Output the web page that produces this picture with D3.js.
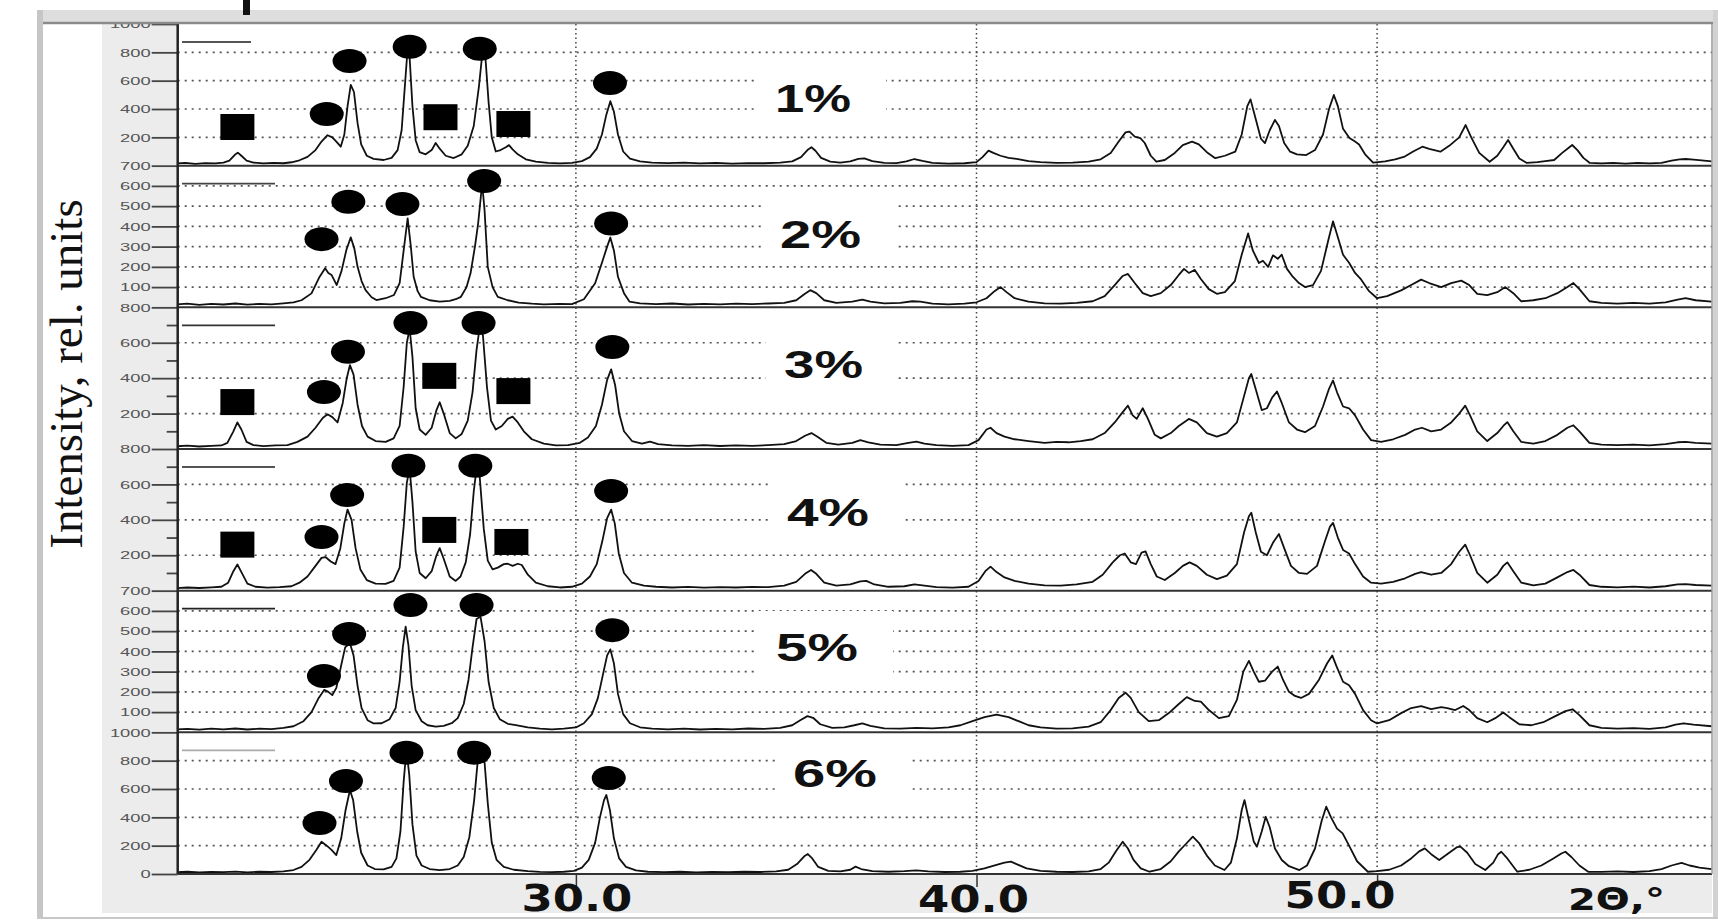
<!DOCTYPE html>
<html>
<head>
<meta charset="utf-8">
<script src="https://cdn.jsdelivr.net/npm/d3@7"></script>
<style>
  body { margin: 0; background: #fff; }
</style>
</head>
<body>
<svg id="chart"></svg>
<script>
// ---- data ----
const panelNames = ["1%", "2%", "3%", "4%", "5%", "6%"];
const panelMax = [1000, 700, 800, 800, 700, 1000];
const majorTicks = [
  [200, 400, 600, 800],
  [100, 200, 300, 400, 500, 600],
  [200, 400, 600],
  [200, 400, 600],
  [100, 200, 300, 400, 500, 600],
  [200, 400, 600, 800]
];
const minorTicks = [[], [], [100, 300, 500, 700], [100, 300, 500, 700], [], []];
const xTicks = [30, 40, 50];
const xTickLabels = ["30.0", "40.0", "50.0"];
const xAxisTitle = "2\u0398,\u00b0";
const yAxisTitle = "Intensity, rel. units";

// 2theta, intensity
const pattern1 = [[20.0,15],[20.25,19],[20.5,13],[20.75,18],[21.0,16],[21.2,22],[21.35,35],[21.48,75],[21.56,92],[21.65,70],[21.78,35],[21.95,22],[22.2,16],[22.45,19],[22.7,17],[22.9,24],[23.1,38],[23.3,62],[23.5,110],[23.65,170],[23.8,215],[23.92,200],[24.02,170],[24.13,134],[24.22,220],[24.3,420],[24.38,570],[24.46,520],[24.55,300],[24.64,150],[24.78,70],[24.95,48],[25.2,40],[25.4,55],[25.55,110],[25.65,250],[25.73,560],[25.79,790],[25.85,760],[25.92,420],[26.0,180],[26.1,95],[26.25,80],[26.4,110],[26.5,160],[26.6,120],[26.75,70],[26.95,54],[27.15,80],[27.3,140],[27.45,280],[27.58,560],[27.66,780],[27.74,770],[27.82,450],[27.9,200],[28.0,100],[28.12,110],[28.25,130],[28.33,145],[28.42,115],[28.55,80],[28.75,45],[29.0,28],[29.3,19],[29.6,16],[29.9,20],[30.15,32],[30.35,60],[30.52,120],[30.65,220],[30.76,360],[30.86,455],[30.95,380],[31.05,220],[31.18,100],[31.35,50],[31.6,30],[31.9,22],[32.3,18],[32.7,21],[33.1,16],[33.5,19],[33.9,15],[34.3,18],[34.7,17],[35.1,21],[35.4,30],[35.62,60],[35.78,110],[35.88,130],[35.98,105],[36.12,55],[36.35,28],[36.6,22],[36.85,30],[37.05,48],[37.2,52],[37.4,32],[37.7,20],[38.0,18],[38.25,30],[38.45,47],[38.65,33],[38.9,19],[39.3,15],[39.7,17],[40.0,25],[40.15,60],[40.3,106],[40.42,90],[40.6,70],[40.8,55],[41.0,48],[41.3,32],[41.6,25],[42.0,20],[42.4,22],[42.8,28],[43.1,45],[43.35,90],[43.55,170],[43.72,235],[43.82,240],[43.95,205],[44.09,195],[44.2,160],[44.35,70],[44.49,28],[44.7,40],[44.95,90],[45.15,145],[45.38,170],[45.55,150],[45.75,95],[45.96,53],[46.2,70],[46.46,99],[46.62,220],[46.76,420],[46.84,468],[46.95,350],[47.1,190],[47.2,159],[47.32,250],[47.45,323],[47.55,280],[47.68,160],[47.83,99],[48.0,80],[48.23,75],[48.45,110],[48.65,220],[48.8,400],[48.92,499],[49.02,420],[49.15,260],[49.31,195],[49.45,170],[49.55,150],[49.7,80],[49.9,21],[50.2,30],[50.45,45],[50.69,64],[50.9,100],[51.13,134],[51.3,118],[51.58,99],[51.8,140],[52.05,200],[52.21,287],[52.35,200],[52.55,90],[52.81,28],[53.0,70],[53.15,130],[53.27,181],[53.4,120],[53.55,50],[53.74,19],[54.0,25],[54.2,32],[54.42,40],[54.62,90],[54.8,130],[54.87,146],[55.0,110],[55.15,55],[55.31,19],[55.6,16],[55.9,20],[56.2,15],[56.5,19],[56.8,16],[57.1,20],[57.35,35],[57.55,45],[57.7,47],[57.9,43],[58.1,38],[58.35,30]];

const pattern2 = [[20.0,14],[20.3,18],[20.6,12],[20.9,17],[21.2,14],[21.5,19],[21.8,13],[22.1,17],[22.4,15],[22.7,20],[22.95,24],[23.15,35],[23.4,69],[23.6,150],[23.74,193],[23.82,170],[23.9,160],[24.03,110],[24.15,180],[24.27,283],[24.38,346],[24.47,290],[24.55,200],[24.65,130],[24.75,85],[24.9,50],[25.02,36],[25.25,45],[25.46,61],[25.6,120],[25.7,280],[25.8,440],[25.88,300],[25.95,151],[26.05,80],[26.13,52],[26.35,35],[26.6,28],[26.85,32],[27.0,40],[27.13,52],[27.27,100],[27.37,168],[27.48,300],[27.56,415],[27.66,612],[27.72,480],[27.8,200],[27.92,100],[28.05,52],[28.3,35],[28.57,23],[28.9,18],[29.2,15],[29.6,17],[29.9,16],[30.2,40],[30.48,119],[30.65,220],[30.78,300],[30.86,345],[30.95,280],[31.05,151],[31.2,70],[31.34,28],[31.6,20],[32.0,16],[32.4,19],[32.8,14],[33.2,17],[33.6,15],[34.0,18],[34.4,16],[34.8,19],[35.2,22],[35.5,35],[35.7,65],[35.85,85],[36.0,70],[36.2,35],[36.5,22],[36.9,28],[37.15,38],[37.35,28],[37.7,20],[38.1,22],[38.4,30],[38.6,28],[38.9,18],[39.3,15],[39.7,18],[40.0,25],[40.25,45],[40.45,80],[40.6,100],[40.75,75],[40.95,45],[41.3,28],[41.7,20],[42.1,18],[42.5,22],[42.9,30],[43.2,55],[43.45,110],[43.65,155],[43.78,165],[43.95,120],[44.15,70],[44.35,55],[44.6,70],[44.85,110],[45.05,160],[45.18,190],[45.3,170],[45.45,185],[45.6,140],[45.8,90],[46.0,67],[46.2,75],[46.45,130],[46.62,260],[46.78,365],[46.9,280],[47.05,219],[47.15,230],[47.28,200],[47.4,257],[47.52,240],[47.62,260],[47.75,190],[47.9,150],[48.05,120],[48.2,100],[48.4,110],[48.6,180],[48.78,330],[48.9,425],[49.0,360],[49.15,260],[49.3,220],[49.45,170],[49.6,138],[49.8,80],[50.0,45],[50.25,55],[50.6,84],[50.85,110],[51.1,137],[51.3,120],[51.6,100],[51.85,120],[52.1,132],[52.3,110],[52.5,67],[52.75,60],[53.0,75],[53.2,100],[53.4,70],[53.6,30],[53.9,35],[54.2,45],[54.5,70],[54.75,100],[54.9,120],[55.05,90],[55.3,30],[55.6,22],[56.0,18],[56.4,22],[56.8,18],[57.2,25],[57.5,38],[57.7,45],[57.95,35],[58.35,28]];

const pattern3 = [[20.0,15],[20.3,19],[20.6,14],[20.9,18],[21.15,20],[21.3,35],[21.45,100],[21.55,150],[21.65,110],[21.78,40],[21.95,22],[22.2,16],[22.5,20],[22.8,22],[23.05,40],[23.3,70],[23.5,120],[23.68,175],[23.8,196],[23.92,180],[24.05,150],[24.18,260],[24.28,400],[24.36,474],[24.45,420],[24.55,250],[24.66,130],[24.8,70],[25.0,45],[25.25,40],[25.45,60],[25.6,130],[25.7,350],[25.78,600],[25.85,680],[25.92,520],[26.0,230],[26.1,110],[26.25,80],[26.4,120],[26.52,220],[26.6,264],[26.7,200],[26.85,90],[27.0,60],[27.15,85],[27.3,160],[27.42,320],[27.52,560],[27.6,690],[27.68,640],[27.78,350],[27.88,160],[28.0,110],[28.15,130],[28.3,170],[28.42,183],[28.55,150],[28.7,100],[28.9,55],[29.2,30],[29.5,20],[29.8,22],[30.1,35],[30.3,65],[30.5,130],[30.65,250],[30.78,390],[30.88,450],[30.98,360],[31.08,200],[31.2,100],[31.4,45],[31.65,30],[31.85,42],[32.05,28],[32.4,20],[32.8,18],[33.2,22],[33.6,17],[34.0,20],[34.4,18],[34.8,22],[35.2,28],[35.5,45],[35.72,75],[35.88,90],[36.02,70],[36.25,35],[36.55,25],[36.9,35],[37.1,50],[37.3,38],[37.6,25],[38.0,22],[38.3,35],[38.5,42],[38.7,30],[39.0,22],[39.4,18],[39.8,22],[40.05,50],[40.25,110],[40.35,120],[40.5,90],[40.7,70],[40.95,55],[41.3,45],[41.7,35],[42.0,40],[42.3,38],[42.6,45],[42.9,55],[43.2,90],[43.45,150],[43.62,200],[43.78,245],[43.9,190],[44.0,170],[44.15,230],[44.28,170],[44.45,80],[44.6,60],[44.85,90],[45.05,130],[45.3,170],[45.5,150],[45.75,90],[46.0,70],[46.25,90],[46.5,150],[46.68,300],[46.8,400],[46.86,424],[46.98,330],[47.12,220],[47.25,230],[47.38,290],[47.5,325],[47.62,260],[47.8,150],[48.0,110],[48.2,95],[48.45,130],[48.65,240],[48.8,340],[48.9,387],[49.0,320],[49.15,240],[49.3,230],[49.45,190],[49.65,110],[49.85,50],[50.1,40],[50.4,55],[50.7,80],[50.95,110],[51.12,120],[51.35,100],[51.6,110],[51.85,150],[52.05,200],[52.2,245],[52.32,190],[52.5,100],[52.75,45],[53.0,90],[53.15,130],[53.25,152],[53.4,100],[53.6,40],[53.9,30],[54.2,45],[54.5,80],[54.75,120],[54.9,134],[55.05,100],[55.3,35],[55.6,25],[56.0,22],[56.4,25],[56.8,20],[57.2,28],[57.5,38],[57.7,40],[57.95,35],[58.35,30]];

const pattern4 = [[20.0,14],[20.3,18],[20.6,15],[20.9,19],[21.15,22],[21.32,45],[21.45,110],[21.55,148],[21.65,105],[21.8,40],[22.0,22],[22.3,17],[22.6,20],[22.9,25],[23.1,45],[23.3,80],[23.5,140],[23.65,185],[23.75,190],[23.88,165],[24.0,150],[24.12,240],[24.22,380],[24.3,458],[24.4,400],[24.5,240],[24.62,120],[24.78,60],[25.0,40],[25.25,38],[25.45,55],[25.6,130],[25.7,360],[25.78,610],[25.85,690],[25.92,500],[26.0,220],[26.1,100],[26.25,70],[26.4,110],[26.52,200],[26.6,240],[26.7,180],[26.85,80],[27.0,55],[27.12,80],[27.25,160],[27.36,320],[27.45,560],[27.52,690],[27.6,640],[27.7,350],[27.8,170],[27.92,120],[28.05,130],[28.2,150],[28.3,152],[28.42,140],[28.55,152],[28.65,145],[28.8,90],[29.0,45],[29.3,25],[29.6,18],[29.9,22],[30.15,40],[30.35,80],[30.52,150],[30.66,280],[30.78,410],[30.88,458],[30.97,380],[31.07,210],[31.2,100],[31.4,45],[31.7,28],[32.0,22],[32.4,18],[32.8,21],[33.2,17],[33.6,20],[34.0,18],[34.4,21],[34.8,20],[35.2,28],[35.5,50],[35.72,95],[35.87,117],[36.0,95],[36.2,45],[36.5,28],[36.85,35],[37.1,52],[37.25,55],[37.45,35],[37.8,22],[38.2,25],[38.45,35],[38.7,28],[39.0,20],[39.4,17],[39.8,22],[40.05,55],[40.22,110],[40.35,136],[40.5,105],[40.7,75],[40.95,55],[41.3,40],[41.7,30],[42.1,28],[42.5,35],[42.9,50],[43.15,90],[43.4,160],[43.58,200],[43.7,210],[43.85,160],[43.98,150],[44.12,215],[44.22,222],[44.35,150],[44.5,80],[44.7,60],[44.95,100],[45.15,140],[45.32,160],[45.5,140],[45.75,90],[46.0,65],[46.25,85],[46.5,150],[46.68,330],[46.8,420],[46.86,440],[46.97,330],[47.1,220],[47.25,200],[47.4,270],[47.55,320],[47.68,240],[47.85,140],[48.05,100],[48.25,95],[48.5,140],[48.7,280],[48.82,360],[48.9,383],[49.02,300],[49.15,230],[49.3,210],[49.45,150],[49.65,80],[49.85,45],[50.1,40],[50.4,50],[50.7,70],[50.95,95],[51.1,105],[51.35,90],[51.6,100],[51.85,150],[52.05,220],[52.2,260],[52.32,200],[52.5,100],[52.75,45],[53.0,90],[53.15,140],[53.25,160],[53.4,110],[53.6,45],[53.9,30],[54.2,40],[54.5,75],[54.75,105],[54.9,117],[55.05,90],[55.3,32],[55.6,22],[56.0,19],[56.4,23],[56.8,18],[57.2,25],[57.5,35],[57.7,37],[57.95,32],[58.35,28]];

const pattern5 = [[20.0,14],[20.3,17],[20.6,13],[20.9,18],[21.2,15],[21.5,19],[21.8,14],[22.1,18],[22.4,16],[22.7,22],[22.95,30],[23.2,55],[23.4,100],[23.58,170],[23.72,210],[23.82,200],[23.92,184],[24.02,220],[24.14,330],[24.24,420],[24.36,440],[24.45,380],[24.55,230],[24.65,120],[24.8,60],[24.95,44],[25.15,45],[25.35,65],[25.5,120],[25.6,250],[25.68,420],[25.75,522],[25.82,430],[25.9,230],[26.0,110],[26.15,55],[26.3,35],[26.5,28],[26.7,32],[26.9,45],[27.05,70],[27.2,140],[27.32,260],[27.42,420],[27.52,560],[27.62,571],[27.72,450],[27.82,250],[27.95,120],[28.1,65],[28.3,42],[28.5,36],[28.8,25],[29.1,18],[29.4,15],[29.7,18],[30.0,24],[30.2,45],[30.4,90],[30.55,170],[30.68,290],[30.78,380],[30.86,410],[30.95,340],[31.05,190],[31.18,90],[31.35,45],[31.6,25],[31.9,18],[32.3,15],[32.7,18],[33.1,14],[33.5,17],[33.9,15],[34.3,19],[34.7,17],[35.1,22],[35.4,35],[35.6,60],[35.78,80],[35.92,72],[36.1,40],[36.4,22],[36.7,25],[36.95,35],[37.15,44],[37.35,32],[37.7,20],[38.1,18],[38.5,22],[38.9,20],[39.3,25],[39.6,35],[39.9,55],[40.2,75],[40.5,87],[40.8,75],[41.05,55],[41.3,35],[41.6,24],[42.0,18],[42.4,20],[42.8,28],[43.1,50],[43.35,110],[43.55,170],[43.72,196],[43.85,170],[44.05,100],[44.3,55],[44.55,60],[44.8,95],[45.05,140],[45.25,174],[45.45,155],[45.6,152],[45.8,110],[46.05,70],[46.3,80],[46.5,160],[46.66,300],[46.8,353],[46.92,300],[47.05,250],[47.2,255],[47.38,300],[47.52,325],[47.65,260],[47.8,200],[47.95,180],[48.1,170],[48.3,190],[48.55,260],[48.75,340],[48.88,380],[48.98,330],[49.15,250],[49.3,233],[49.45,190],[49.65,110],[49.85,60],[50.0,44],[50.3,60],[50.6,95],[50.85,120],[51.1,130],[51.35,115],[51.6,125],[51.75,120],[51.95,110],[52.15,130],[52.3,110],[52.5,70],[52.75,50],[52.95,70],[53.15,98],[53.3,75],[53.55,40],[53.85,35],[54.15,50],[54.45,80],[54.7,105],[54.88,114],[55.05,85],[55.3,35],[55.6,22],[56.0,18],[56.4,21],[56.8,17],[57.2,25],[57.45,38],[57.65,44],[57.9,38],[58.35,30]];

const pattern6 = [[20.0,12],[20.3,16],[20.6,11],[20.9,15],[21.2,13],[21.5,17],[21.8,12],[22.1,16],[22.4,14],[22.7,18],[22.95,28],[23.15,50],[23.35,100],[23.52,170],[23.65,228],[23.78,200],[23.9,170],[24.02,134],[24.14,250],[24.25,450],[24.36,593],[24.44,520],[24.54,300],[24.64,150],[24.8,60],[24.98,35],[25.2,32],[25.4,50],[25.52,110],[25.62,300],[25.7,650],[25.77,880],[25.84,700],[25.92,350],[26.02,130],[26.15,60],[26.35,35],[26.6,28],[26.85,35],[27.05,60],[27.2,120],[27.34,260],[27.46,520],[27.55,800],[27.63,900],[27.7,860],[27.8,500],[27.9,220],[28.02,100],[28.2,50],[28.45,30],[28.8,20],[29.1,15],[29.4,13],[29.7,16],[29.95,22],[30.15,45],[30.32,100],[30.48,220],[30.6,400],[30.7,520],[30.76,558],[30.85,450],[30.95,250],[31.08,110],[31.25,50],[31.5,25],[31.8,16],[32.2,13],[32.6,16],[33.0,12],[33.4,15],[33.8,13],[34.2,16],[34.6,14],[35.0,18],[35.3,30],[35.52,70],[35.7,125],[35.79,141],[35.9,110],[36.05,50],[36.3,22],[36.6,18],[36.85,30],[36.98,52],[37.12,35],[37.4,20],[37.8,16],[38.2,20],[38.5,25],[38.8,18],[39.2,14],[39.6,16],[39.9,22],[40.2,40],[40.5,65],[40.7,80],[40.86,87],[41.0,70],[41.25,40],[41.6,22],[42.0,16],[42.4,14],[42.8,18],[43.1,35],[43.3,80],[43.48,160],[43.65,228],[43.78,180],[43.92,100],[44.1,40],[44.32,16],[44.6,35],[44.85,90],[45.05,160],[45.22,210],[45.4,264],[45.55,220],[45.75,130],[45.95,60],[46.19,28],[46.35,80],[46.5,250],[46.62,450],[46.69,522],[46.8,380],[46.92,230],[47.0,193],[47.12,300],[47.22,404],[47.32,330],[47.45,180],[47.62,99],[47.8,55],[48.06,28],[48.25,60],[48.45,180],[48.62,380],[48.73,475],[48.85,400],[49.0,320],[49.14,287],[49.3,200],[49.5,90],[49.77,16],[50.0,20],[50.3,30],[50.6,60],[50.85,110],[51.05,160],[51.19,181],[51.35,140],[51.55,99],[51.8,150],[52.0,190],[52.08,193],[52.25,150],[52.45,70],[52.7,28],[52.9,80],[53.02,140],[53.1,157],[53.25,110],[53.5,16],[53.8,30],[54.1,60],[54.4,110],[54.6,145],[54.7,157],[54.85,120],[55.05,60],[55.27,16],[55.6,15],[56.0,18],[56.4,14],[56.8,20],[57.1,35],[57.35,60],[57.6,78],[57.8,60],[58.05,45],[58.35,35]];

const patterns = [pattern1, pattern2, pattern3, pattern4, pattern5, pattern6];

// phase marks: circles and squares, [2theta, intensity level]
const circleMarks = [
  [[23.78, 365], [24.35, 739], [25.85, 840], [27.6, 825], [30.85, 584]],
  [[23.65, 337], [24.32, 522], [25.67, 510], [27.71, 624], [30.88, 414]],
  [[23.71, 322], [24.31, 549], [25.87, 711], [27.57, 711], [30.91, 576]],
  [[23.65, 303], [24.29, 540], [25.82, 706], [27.49, 706], [30.88, 563]],
  [[23.71, 278], [24.34, 486], [25.87, 629], [27.52, 629], [30.91, 505]],
  [[23.6, 360], [24.26, 656], [25.77, 856], [27.46, 856], [30.82, 678]]
];
const squareMarks = [
  [[21.55, 273], [26.62, 342], [28.44, 294]],
  [],
  [[21.55, 265], [26.59, 413], [28.44, 327]],
  [[21.55, 260], [26.59, 343], [28.39, 275]],
  [],
  []
];

// ---- layout ----
const W = 1718, H = 922;
const plot = { left: 177.7, right: 1712, top: 24, bottom: 874 };
const panelH = (plot.bottom - plot.top) / panelNames.length;
// where each % label sits: [left x, baseline y, stretched width]
const labelPos = [[775, 112, 76], [780, 248, 81], [784, 378, 79], [787, 526, 82], [776, 661, 82], [793, 787, 84]];
const legendLen = [69, 93, 93, 93, 93, 93];
const legendColor = ["#555", "#444", "#333", "#555", "#222", "#aaa"];

const svg = d3.select("#chart").attr("width", W).attr("height", H)
  .style("font-family", "'Liberation Sans', Arial, sans-serif");

const x = d3.scaleLinear().domain([20.06, 58.36]).range([plot.left, plot.right]);

// frame background
svg.append("rect").attr("x", 0).attr("y", 0).attr("width", W).attr("height", H).attr("fill", "#fff");
svg.append("rect").attr("x", 102).attr("y", plot.top).attr("width", plot.right - 102).attr("height", 913 - plot.top).attr("fill", "#ececec");
svg.append("rect").attr("x", plot.left).attr("y", plot.top).attr("width", plot.right - plot.left).attr("height", plot.bottom - plot.top).attr("fill", "#fff");

svg.append("clipPath").attr("id", "plotclip").append("rect")
  .attr("x", plot.left).attr("y", plot.top).attr("width", plot.right - plot.left).attr("height", plot.bottom - plot.top);

// vertical dotted grid
svg.append("g").selectAll("line").data(xTicks).join("line")
  .attr("x1", d => x(d)).attr("x2", d => x(d))
  .attr("y1", plot.top).attr("y2", plot.bottom)
  .attr("stroke", "#444").attr("stroke-width", 1.5).attr("stroke-dasharray", "1.5,3");

const line = d3.line().curve(d3.curveLinear);

patterns.forEach((data, i) => {
  const top = plot.top + i * panelH;
  const bottom = top + panelH;
  const y = d3.scaleLinear().domain([0, panelMax[i]]).range([bottom, top]);
  const g = svg.append("g");

  // horizontal dotted grid
  g.append("g").selectAll("line").data(majorTicks[i]).join("line")
    .attr("x1", plot.left).attr("x2", plot.right)
    .attr("y1", d => y(d)).attr("y2", d => y(d))
    .attr("stroke", "#555").attr("stroke-width", 1.6).attr("stroke-dasharray", "2,5");

  // white box behind the % label
  const lp = labelPos[i];
  g.append("rect").attr("x", lp[0] - 18).attr("y", lp[1] - 50)
    .attr("width", lp[2] + 53).attr("height", 62).attr("fill", "#fff");

  // legend stub
  g.append("line").attr("x1", 182).attr("x2", 182 + legendLen[i])
    .attr("y1", top + 18).attr("y2", top + 18)
    .attr("stroke", legendColor[i]).attr("stroke-width", 1.8);

  // pattern curve
  g.append("path").datum(data)
    .attr("clip-path", "url(#plotclip)")
    .attr("d", line.x(d => x(d[0])).y(d => y(d[1])))
    .attr("fill", "none").attr("stroke", "#111").attr("stroke-width", 1.8)
    .attr("stroke-linejoin", "round");

  // panel bottom line
  g.append("line").attr("x1", plot.left).attr("x2", plot.right)
    .attr("y1", bottom).attr("y2", bottom)
    .attr("stroke", "#333").attr("stroke-width", 2);

  // markers
  g.append("g").selectAll("ellipse").data(circleMarks[i]).join("ellipse")
    .attr("cx", d => x(d[0])).attr("cy", d => y(d[1]))
    .attr("rx", 17).attr("ry", 12).attr("fill", "#000");
  g.append("g").selectAll("rect").data(squareMarks[i]).join("rect")
    .attr("x", d => x(d[0]) - 17).attr("y", d => y(d[1]) - 13)
    .attr("width", 34).attr("height", 26).attr("fill", "#000");

  // % label
  g.append("text").attr("x", lp[0]).attr("y", lp[1])
    .attr("textLength", lp[2]).attr("lengthAdjust", "spacingAndGlyphs")
    .attr("font-size", 38).attr("font-weight", "bold").attr("fill", "#111")
    .text(panelNames[i]);

  // y axis: labelled ticks (top value of the panel + interior ticks)
  const labelled = majorTicks[i].concat([panelMax[i]]).concat(i === panelNames.length - 1 ? [0] : []);
  const axis = g.append("g").attr("transform", `translate(${plot.left},0)`)
    .call(d3.axisLeft(y).tickValues(labelled).tickSize(26).tickPadding(1).tickFormat(d3.format("d")));
  axis.select(".domain").remove();
  axis.selectAll(".tick line").attr("stroke", "#444").attr("stroke-width", 1.8);
  axis.selectAll(".tick text")
    .attr("font-size", 11.5).attr("fill", "#555").attr("font-family", "'Liberation Sans', Arial, sans-serif")
    .attr("textLength", d => String(d).length * 10.2).attr("lengthAdjust", "spacingAndGlyphs");

  if (minorTicks[i].length) {
    const minor = g.append("g").attr("transform", `translate(${plot.left},0)`)
      .call(d3.axisLeft(y).tickValues(minorTicks[i]).tickSize(11).tickFormat(""));
    minor.select(".domain").remove();
    minor.selectAll(".tick line").attr("stroke", "#444").attr("stroke-width", 1.8);
  }
});

// left axis line and right border
svg.append("line").attr("x1", plot.left).attr("x2", plot.left).attr("y1", plot.top).attr("y2", plot.bottom)
  .attr("stroke", "#222").attr("stroke-width", 2.5);
svg.append("line").attr("x1", plot.right).attr("x2", plot.right).attr("y1", plot.top).attr("y2", plot.bottom)
  .attr("stroke", "#999").attr("stroke-width", 1.5);

// x axis ticks
const xAxis = svg.append("g").attr("transform", `translate(0,${plot.bottom})`)
  .call(d3.axisBottom(x).tickValues(xTicks).tickSize(13).tickFormat(""));
xAxis.select(".domain").remove();
xAxis.selectAll(".tick line").attr("stroke", "#333").attr("stroke-width", 1.5);

// big x tick labels
const xLabelNudge = [[1, 911], [-3, 912], [-37, 908]];
svg.append("g").selectAll("text").data(xTicks).join("text")
  .attr("x", (d, k) => x(d) + xLabelNudge[k][0]).attr("y", (d, k) => xLabelNudge[k][1])
  .attr("text-anchor", "middle")
  .attr("font-family", "'DejaVu Sans', Verdana, sans-serif").attr("font-weight", "bold")
  .attr("font-size", 37).attr("fill", "#111")
  .attr("textLength", 111).attr("lengthAdjust", "spacingAndGlyphs")
  .text((d, k) => xTickLabels[k]);

svg.append("text").attr("x", 1568).attr("y", 910)
  .attr("font-family", "'DejaVu Sans', Verdana, sans-serif").attr("font-weight", "bold")
  .attr("font-size", 31).attr("fill", "#111")
  .attr("textLength", 97).attr("lengthAdjust", "spacingAndGlyphs")
  .text(xAxisTitle);

// y axis title
svg.append("text").attr("transform", "translate(82,374) rotate(-90)")
  .attr("text-anchor", "middle")
  .attr("font-family", "'Liberation Serif', 'Times New Roman', serif")
  .attr("font-size", 47).attr("fill", "#111")
  .text(yAxisTitle);

// outer window frame
svg.append("rect").attr("x", 37).attr("y", 10).attr("width", W - 37).attr("height", 13).attr("fill", "#dedede");
svg.append("line").attr("x1", 37).attr("x2", W).attr("y1", 23).attr("y2", 23).attr("stroke", "#8a8a8a").attr("stroke-width", 2.5);
svg.append("rect").attr("x", 37).attr("y", 10).attr("width", 6).attr("height", 908).attr("fill", "#c6c6c6");
svg.append("rect").attr("x", plot.right + 1).attr("y", 10).attr("width", W - plot.right - 1).attr("height", 908).attr("fill", "#d2d2d2");
svg.append("line").attr("x1", 37).attr("x2", W).attr("y1", 918).attr("y2", 918).attr("stroke", "#c8c8c8").attr("stroke-width", 2);
svg.append("rect").attr("x", 243).attr("y", 0).attr("width", 7).attr("height", 15).attr("fill", "#111");
</script>
</body>
</html>
